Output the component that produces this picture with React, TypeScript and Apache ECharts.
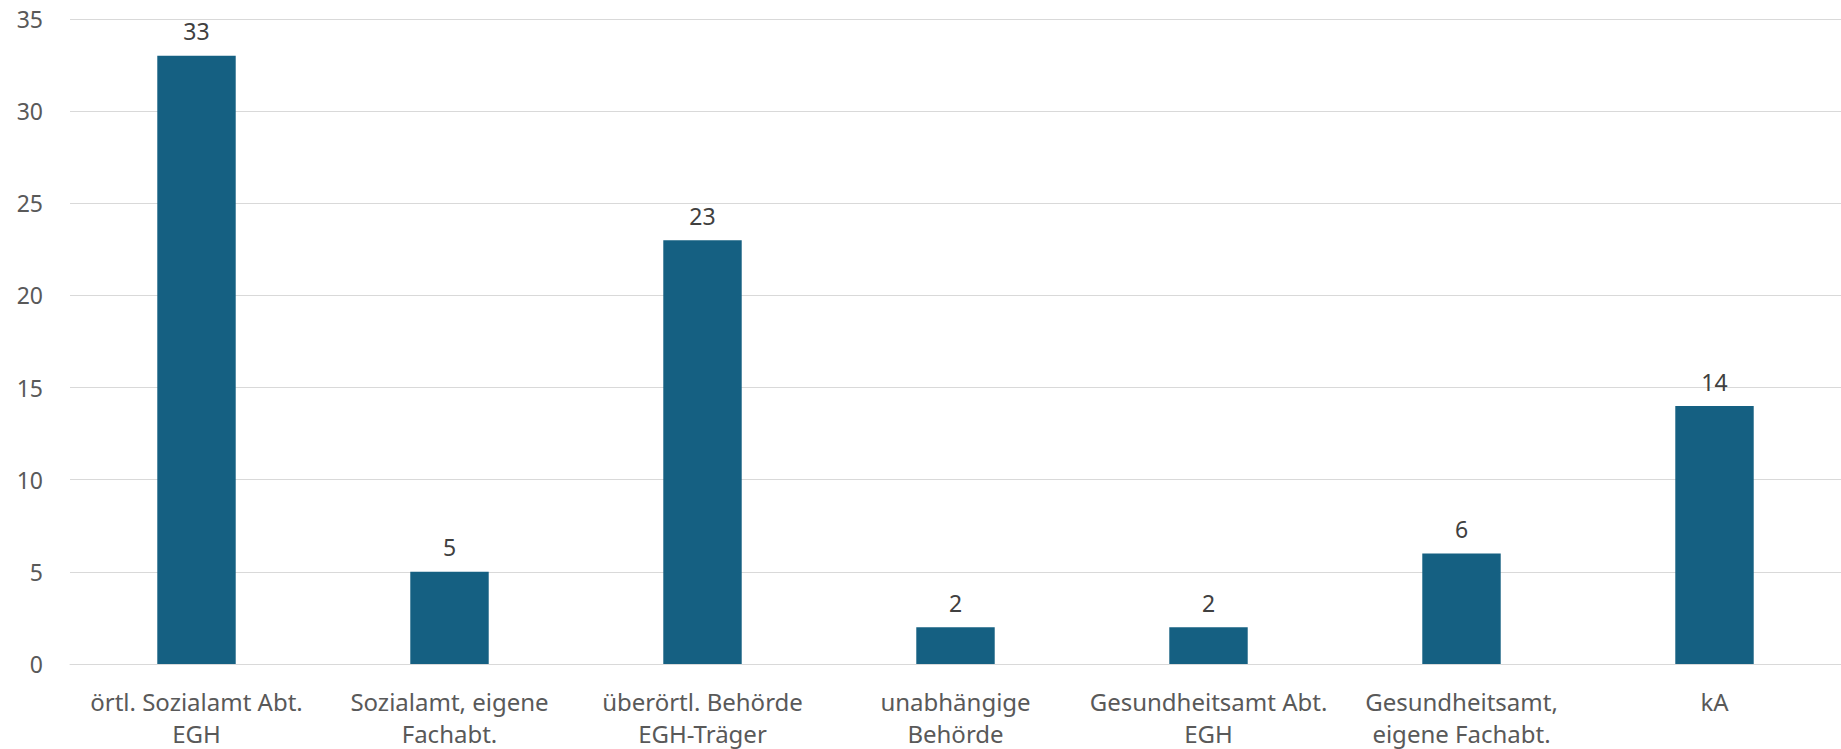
import React, { useEffect, useRef } from "react";
import * as echarts from "echarts";

// Zuständige Stelle – Anzahl der Nennungen
const categories: string[] = [
  "örtl. Sozialamt Abt.\nEGH",
  "Sozialamt, eigene\nFachabt.",
  "überörtl. Behörde\nEGH-Träger",
  "unabhängige\nBehörde",
  "Gesundheitsamt Abt.\nEGH",
  "Gesundheitsamt,\neigene Fachabt.",
  "kA",
];

const counts: number[] = [33, 5, 23, 2, 2, 6, 14];

const yTicks = { min: 0, max: 35, interval: 5 };

const FONT = "'Noto Sans', 'DejaVu Sans', sans-serif";

export default function App() {
  const ref = useRef<HTMLDivElement>(null);

  useEffect(() => {
    if (!ref.current) return;
    const chart = echarts.init(ref.current, undefined, { renderer: "svg" });
    chart.setOption({
      animation: false,
      backgroundColor: "#ffffff",
      textStyle: { fontFamily: FONT },
      grid: { left: 70, right: 0, top: 19, bottom: 82, containLabel: false },
      xAxis: {
        type: "category",
        data: categories,
        axisTick: { show: false },
        axisLine: { lineStyle: { color: "#d9d9d9", width: 1 } },
        axisLabel: {
          interval: 0,
          fontSize: 24,
          lineHeight: 32,
          margin: 21,
          color: "#595959",
          fontFamily: FONT,
        },
      },
      yAxis: {
        type: "value",
        min: yTicks.min,
        max: yTicks.max,
        interval: yTicks.interval,
        axisLine: { show: false },
        axisTick: { show: false },
        splitLine: { lineStyle: { color: "#d9d9d9", width: 1 } },
        axisLabel: {
          fontSize: 23,
          margin: 27,
          color: "#595959",
          fontFamily: FONT,
        },
      },
      series: [
        {
          type: "bar",
          data: counts,
          barWidth: "31%",
          itemStyle: { color: "#156082" },
          label: {
            show: true,
            position: "top",
            distance: 13,
            fontSize: 23,
            color: "#404040",
            fontFamily: FONT,
          },
        },
      ],
    });
    return () => chart.dispose();
  }, []);

  return (
    <div
      ref={ref}
      style={{ position: "fixed", left: 0, top: 0, width: 1841, height: 749, background: "#fff" }}
    />
  );
}
